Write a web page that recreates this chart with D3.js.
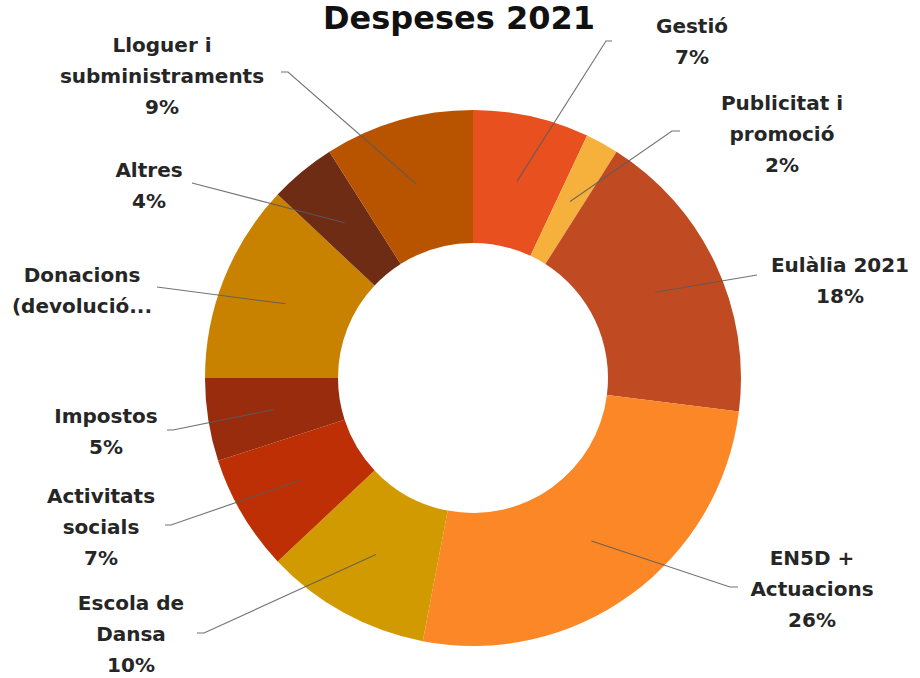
<!DOCTYPE html>
<html>
<head>
<meta charset="utf-8">
<script src="https://cdn.jsdelivr.net/npm/d3@7"></script>
<style>
  body { margin: 0; background: #fff; }
  text { font-family: "DejaVu Sans", "Liberation Sans", Arial, sans-serif; font-weight: bold; }
</style>
</head>
<body>
<script>
// data, clockwise from 12 o'clock
var categories = [
  ["Gestió"],
  ["Publicitat i", "promoció"],
  ["Eulàlia 2021"],
  ["EN5D +", "Actuacions"],
  ["Escola de", "Dansa"],
  ["Activitats", "socials"],
  ["Impostos"],
  ["Donacions", "(devolució..."],
  ["Altres"],
  ["Lloguer i", "subministraments"]
];
var values = [7, 2, 18, 26, 10, 7, 5, 12, 4, 9];
var showPct = [true, true, true, true, true, true, true, false, true, true];
var colors = ["#e8501f", "#f6b13c", "#c04b22", "#fb8726", "#d09a00",
              "#be2f05", "#9a2c0e", "#c98200", "#6e2c14", "#b85400"];

// label layout: text centre x, first baseline y, leader anchor, elbow
var labelPos = [
  {x: 692, y: 33,  ax: 612, ay: 41,  ex: 606},
  {x: 782, y: 110, ax: 680, ay: 131, ex: 672},
  {x: 840, y: 272, ax: 757, ay: 275, ex: 757},
  {x: 812, y: 565, ax: 738, ay: 587, ex: 730},
  {x: 131, y: 610, ax: 197, ay: 633, ex: 204},
  {x: 101, y: 503, ax: 165, ay: 525, ex: 171},
  {x: 106, y: 423, ax: 167, ay: 430, ex: 173},
  {x: 82,  y: 282, ax: 157, ay: 287, ex: 157},
  {x: 149, y: 177, ax: 192, ay: 183, ex: 192},
  {x: 162, y: 52,  ax: 281, ay: 72,  ex: 288}
];

var W = 920, H = 678, cx = 473, cy = 378, R = 268, r0 = 135;

var svg = d3.select("body").append("svg")
  .attr("width", W).attr("height", H);

svg.append("text")
  .attr("x", 459).attr("y", 29)
  .attr("text-anchor", "middle")
  .style("font-size", "32px")
  .style("fill", "#111")
  .text("Despeses 2021");

var pie = d3.pie().sort(null).value(function(d){ return d; });
var arcs = pie(values);
var arc = d3.arc().innerRadius(r0).outerRadius(R);

var g = svg.append("g").attr("transform", "translate(" + cx + "," + cy + ")");

g.selectAll("path").data(arcs).enter().append("path")
  .attr("d", arc)
  .style("fill", function(d, i){ return colors[i]; })
  .style("stroke", "none");

// leader lines
svg.append("g").selectAll("polyline").data(arcs).enter().append("polyline")
  .attr("points", function(d, i){
    var c = arc.centroid(d), p = labelPos[i];
    return [[cx + c[0], cy + c[1]], [p.ex, p.ay], [p.ax, p.ay]].join(" ");
  })
  .style("fill", "none")
  .style("stroke", "#5a5a5a")
  .style("stroke-width", 1.1)
  .style("opacity", 0.85);

// labels
var lab = svg.append("g").selectAll("text").data(arcs).enter().append("text")
  .attr("text-anchor", "middle")
  .style("font-size", "20px")
  .style("fill", "#262626");

lab.each(function(d, i){
  var t = d3.select(this), p = labelPos[i];
  var lines = categories[i].slice();
  if (showPct[i]) lines.push(values[i] + "%");
  lines.forEach(function(s, k){
    t.append("tspan").attr("x", p.x).attr("y", p.y + k * 31).text(s);
  });
});
</script>
</body>
</html>
